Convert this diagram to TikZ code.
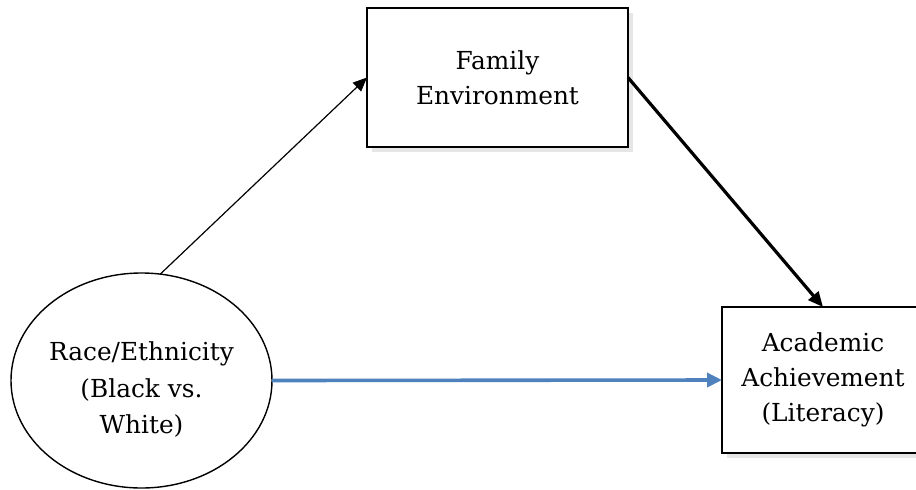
\documentclass[tikz,border=0pt]{standalone}
\usepackage{fontspec}
\setmainfont{DejaVu Serif}
\usetikzlibrary{arrows.meta,shapes.geometric,shadows}
\definecolor{pathblue}{HTML}{4F81BD}

\begin{document}
\begin{tikzpicture}[x=0.5pt, y=-0.5pt,
    font=\fontsize{12.4}{17.5}\selectfont,
    varbox/.style={draw, line width=0.9pt, fill=white, align=center, inner sep=0pt, outer sep=0pt,
        drop shadow={shadow xshift=2.5pt, shadow yshift=-2.5pt, opacity=0.2}},
    varoval/.style={draw, ellipse, line width=0.7pt, fill=white, inner sep=0pt, outer sep=0pt},
    thinpath/.style={-{Triangle[length=7pt, width=6pt]}, line width=0.6pt},
    thickpath/.style={-{Triangle[length=7.5pt, width=6.5pt]}, line width=1.6pt},
    bluepath/.style={-{Triangle[length=7.5pt, width=7pt]}, line width=1.8pt, pathblue}]
    % Fix the page size
    \useasboundingbox (0,0) rectangle (916,489);

    % Variables
    \node[varbox, minimum width=130.5pt, minimum height=69.5pt] (family) at (497.5,77.5) {Family\\Environment};
    \node[varbox, minimum width=101pt, minimum height=73pt] (achieve) at (823,380) {Academic\\Achievement\\(Literacy)};
    \node[varoval, minimum width=130.5pt, minimum height=107.5pt] (race) at (141.5,380.5) {};
    % Text of the oval sits a little low
    \node[align=center, font=\fontsize{12.4}{18}\selectfont] (racetext) at ([yshift=-4.5pt]race.center) {Race/Ethnicity\\(Black vs.\\White)};

    % Paths
    \draw[thinpath] (race.80) -- (family.west);
    \draw[thickpath] (family.east) -- (achieve.north);
    \draw[bluepath] (race.east) -- (achieve.west);
\end{tikzpicture}
\end{document}
